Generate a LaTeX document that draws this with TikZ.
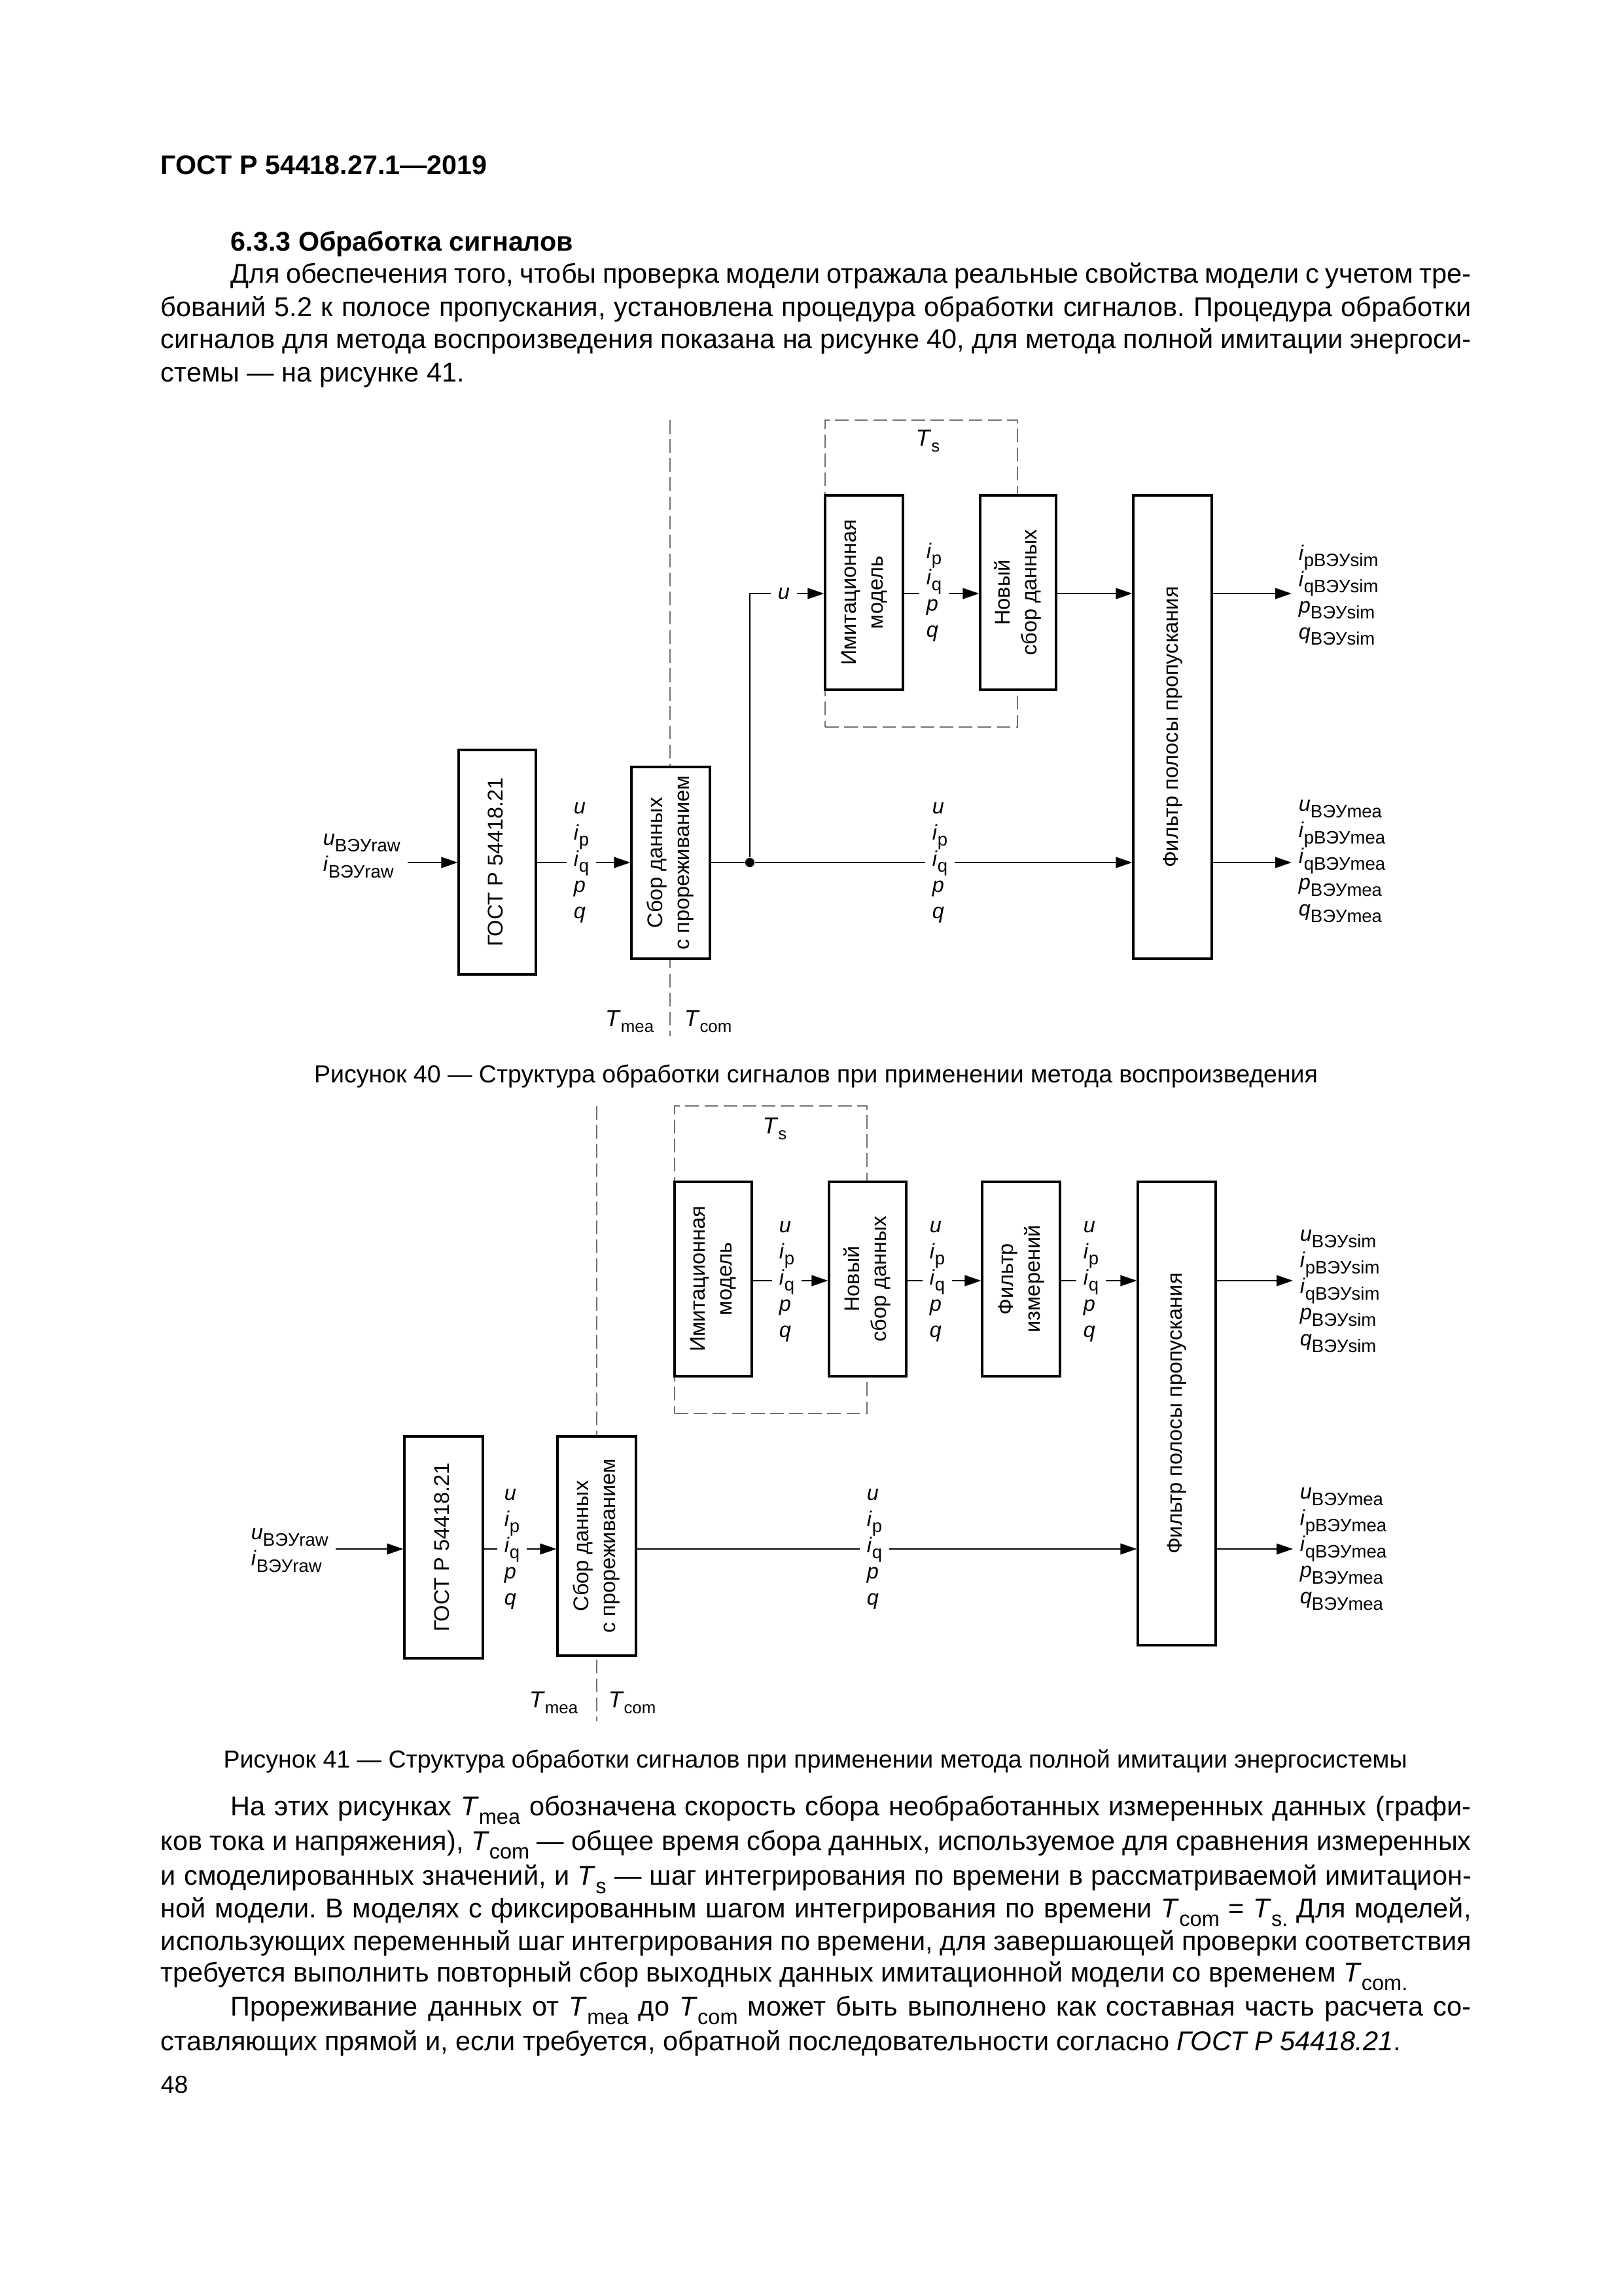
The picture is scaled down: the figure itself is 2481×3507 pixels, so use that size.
\documentclass[tikz,border=0pt]{standalone}
\usepackage{fontspec}
\setmainfont{Liberation Sans}
\usepackage{graphicx}
\usetikzlibrary{arrows.meta}
\frenchspacing
\newcommand\sbs[1]{\raisebox{-2.2pt}{\fontsize{6.6}{6.6}\selectfont #1}}
\newcommand\lbv[2]{\textit{#1}\sbs{#2}}
\newcommand\tsb[1]{\raisebox{-3.3pt}{\fontsize{7.8}{7.8}\selectfont #1}}
\newcommand\Tsub[1]{\textit{T}\tsb{#1}}
\newcommand\dT[1]{\textit{T}\raisebox{-2.3pt}{\fontsize{6.2}{6.2}\selectfont #1}}
\newcommand\jline[2]{\makebox[#1][s]{#2}}
\newcommand\fiveL{\textit{u}\\\lbv{i}{p}\\\lbv{i}{q}\\\textit{p}\\\textit{q}}
\newcommand\fourL{\lbv{i}{p}\\\lbv{i}{q}\\\textit{p}\\\textit{q}}
\newcommand\rot[1]{\rotatebox{90}{\begin{tabular}{@{}c@{}}#1\end{tabular}}}
\begin{document}
\begin{tikzpicture}[x=0.24pt,y=-0.24pt,
 blk/.style 2 args={draw, fill=white, line width=0.75pt, minimum width=#1*0.24pt, minimum height=#2*0.24pt, inner sep=0pt, font=\fontsize{7.8}{9.8}\selectfont},
 stk/.style={anchor=west, inner xsep=2.4pt, inner ysep=0pt, align=left, font=\fontsize{7.8}{9.6}\selectfont},
 lbl/.style={inner sep=0pt, font=\fontsize{8.5}{10}\selectfont},
 dsh/.style={draw=black!55, line width=0.45pt, dash pattern=on 5pt off 2pt},
 ln/.style={line width=0.45pt},
 arr/.style={line width=0.45pt, -{Triangle[length=6pt,width=4pt]}},
 txt/.style={anchor=base west, inner sep=0pt, font=\fontsize{9.95}{11.6}\selectfont},
 btxt/.style={anchor=base west, inner sep=0pt, font=\fontsize{9.9}{11.6}\selectfont\bfseries},
 captxt/.style={inner sep=0pt, font=\fontsize{9}{10}\selectfont},
]
\fill[white] (0,0) rectangle (2481,3507);
\useasboundingbox (0,0) rectangle (2481,3507);

% ---------------- text above ----------------
\node[btxt] (hdr) at (245,267) {ГОСТ Р 54418.27.1—2019};
\node[btxt] (sec) at (352,384) {6.3.3 Обработка сигналов};
\node[txt] (p1a) at (352,433) {\jline{455.0pt}{Для обеспечения того, чтобы проверка модели отражала реальные свойства модели с учетом тре-}};
\node[txt] (p1b) at (245,484) {\jline{480.7pt}{бований 5.2 к полосе пропускания, установлена процедура обработки сигналов. Процедура обработки}};
\node[txt] (p1c) at (245,533) {\jline{480.7pt}{сигналов для метода воспроизведения показана на рисунке 40, для метода полной имитации энергоси-}};
\node[txt] (p1d) at (245,584) {стемы — на рисунке 41.};

% ---------------- Figure 40 ----------------
\coordinate (v40t) at (1024,642);
\coordinate (v40b) at (1024,1583);
\draw[dsh] (v40t) -- (v40b);
\node[dsh, minimum width=294*0.24pt, minimum height=469*0.24pt, inner sep=0pt] (ts40) at (1408,876.5) {};
\node[lbl] (ts40l) at (1418,674) {\dT{s}};

\node[blk={118}{343}] (g40) at (760,1317.5) {\rot{ГОСТ Р 54418.21}};
\node[blk={120}{293}] (s40) at (1025,1318.5) {\rot{Сбор данных\\с прореживанием}};
\node[blk={119}{297}] (im40) at (1320.5,905.5) {\rot{Имитационная\\модель}};
\node[blk={116}{297}] (nv40) at (1556,905.5) {\rot{Новый\\сбор данных}};
\node[blk={120}{708}] (f40) at (1792,1111) {\rot{Фильтр полосы пропускания}};

\coordinate (m40) at (0,1318);
\coordinate (t40) at (0,907);
\node[circle, fill, inner sep=0pt, minimum size=3.4pt] (jn40) at (1146,1318) {};

\node[stk] (in40) at (483,1308) {\lbv{u}{ВЭУraw}\\\lbv{i}{ВЭУraw}};
\node[stk] (l40a) at (866,1318) {\fiveL};
\node[stk] (l40b) at (1414,1318) {\fiveL};
\node[stk] (u40) at (1178,907) {\textit{u}};
\node[stk] (l40c) at (1405,905) {\fourL};
\node[stk] (o40a) at (1974,909) {\lbv{i}{pВЭУsim}\\\lbv{i}{qВЭУsim}\\\lbv{p}{ВЭУsim}\\\lbv{q}{ВЭУsim}};
\node[stk] (o40b) at (1974,1316) {\lbv{u}{ВЭУmea}\\\lbv{i}{pВЭУmea}\\\lbv{i}{qВЭУmea}\\\lbv{p}{ВЭУmea}\\\lbv{q}{ВЭУmea}};

\draw[arr] (in40.east |- m40) -- (g40.west |- m40);
\draw[ln] (g40.east |- m40) -- (l40a.west |- m40);
\draw[arr] (l40a.east |- m40) -- (s40.west |- m40);
\draw[ln] (s40.east |- m40) -- (jn40);
\draw[ln] (jn40) -- (l40b.west |- m40);
\draw[arr] (l40b.east |- m40) -- (f40.west |- m40);
\draw[ln] (jn40) -- (jn40 |- t40) -- (u40.west |- t40);
\draw[arr] (u40.east |- t40) -- (im40.west |- t40);
\draw[ln] (im40.east |- t40) -- (l40c.west |- t40);
\draw[arr] (l40c.east |- t40) -- (nv40.west |- t40);
\draw[arr] (nv40.east |- t40) -- (f40.west |- t40);
\draw[arr] (f40.east |- t40) -- (o40a.west |- t40);
\draw[arr] (f40.east |- m40) -- (o40b.west |- m40);

\node[lbl, anchor=east] (tm40) at (1000,1561) {\dT{mea}};
\node[lbl, anchor=west] (tc40) at (1045,1561) {\dT{com}};

\node[captxt] (cap40) at (1247,1645) {Рисунок 40 — Структура обработки сигналов при применении метода воспроизведения};

% ---------------- Figure 41 ----------------
\coordinate (v41t) at (912,1690);
\coordinate (v41b) at (912,2630);
\draw[dsh] (v41t) -- (v41b);
\node[dsh, minimum width=294*0.24pt, minimum height=470*0.24pt, inner sep=0pt] (ts41) at (1178,1925) {};
\node[lbl] (ts41l) at (1184,1725) {\dT{s}};

\node[blk={120}{339}] (g41) at (678,2364.5) {\rot{ГОСТ Р 54418.21}};
\node[blk={120}{335}] (s41) at (912,2362.5) {\rot{Сбор данных\\с прореживанием}};
\node[blk={118}{297}] (im41) at (1090,1954.5) {\rot{Имитационная\\модель}};
\node[blk={118}{297}] (nv41) at (1326,1954.5) {\rot{Новый\\сбор данных}};
\node[blk={119}{297}] (fm41) at (1560.5,1954.5) {\rot{Фильтр\\измерений}};
\node[blk={119}{708}] (f41) at (1798.5,2160) {\rot{Фильтр полосы пропускания}};

\coordinate (m41) at (0,2367);
\coordinate (t41) at (0,1957);

\node[stk] (in41) at (373,2369) {\lbv{u}{ВЭУraw}\\\lbv{i}{ВЭУraw}};
\node[stk] (l41a) at (760,2367) {\fiveL};
\node[stk] (l41b) at (1314,2367) {\fiveL};
\node[stk] (l41c) at (1180,1958) {\fiveL};
\node[stk] (l41d) at (1410,1958) {\fiveL};
\node[stk] (l41e) at (1645,1958) {\fiveL};
\node[stk] (o41a) at (1976,1973) {\lbv{u}{ВЭУsim}\\\lbv{i}{pВЭУsim}\\\lbv{i}{qВЭУsim}\\\lbv{p}{ВЭУsim}\\\lbv{q}{ВЭУsim}};
\node[stk] (o41b) at (1976,2367) {\lbv{u}{ВЭУmea}\\\lbv{i}{pВЭУmea}\\\lbv{i}{qВЭУmea}\\\lbv{p}{ВЭУmea}\\\lbv{q}{ВЭУmea}};

\draw[arr] (in41.east |- m41) -- (g41.west |- m41);
\draw[ln] (g41.east |- m41) -- (l41a.west |- m41);
\draw[arr] (l41a.east |- m41) -- (s41.west |- m41);
\draw[ln] (s41.east |- m41) -- (l41b.west |- m41);
\draw[arr] (l41b.east |- m41) -- (f41.west |- m41);
\draw[ln] (im41.east |- t41) -- (l41c.west |- t41);
\draw[arr] (l41c.east |- t41) -- (nv41.west |- t41);
\draw[ln] (nv41.east |- t41) -- (l41d.west |- t41);
\draw[arr] (l41d.east |- t41) -- (fm41.west |- t41);
\draw[ln] (fm41.east |- t41) -- (l41e.west |- t41);
\draw[arr] (l41e.east |- t41) -- (f41.west |- t41);
\draw[arr] (f41.east |- t41) -- (o41a.west |- t41);
\draw[arr] (f41.east |- m41) -- (o41b.west |- m41);

\node[lbl, anchor=east] (tm41) at (884,2602) {\dT{mea}};
\node[lbl, anchor=west] (tc41) at (929,2602) {\dT{com}};

\node[captxt] (cap41) at (1246,2691) {Рисунок 41 — Структура обработки сигналов при применении метода полной имитации энергосистемы};

% ---------------- text below ----------------
\node[txt] (p2a) at (352,2774) {\jline{455.0pt}{На этих рисунках \Tsub{mea} обозначена скорость сбора необработанных измеренных данных (графи-}};
\node[txt] (p2b) at (245,2827) {\jline{480.7pt}{ков тока и напряжения), \Tsub{com} — общее время сбора данных, используемое для сравнения измеренных}};
\node[txt] (p2c) at (245,2880) {\jline{480.7pt}{и смоделированных значений, и \Tsub{s} — шаг интегрирования по времени в рассматриваемой имитацион-}};
\node[txt] (p2d) at (245,2930) {\jline{480.7pt}{ной модели. В моделях с фиксированным шагом интегрирования по времени \Tsub{com} = \Tsub{s.} Для моделей,}};
\node[txt] (p2e) at (245,2980) {\jline{480.7pt}{использующих переменный шаг интегрирования по времени, для завершающей проверки соответствия}};
\node[txt] (p2f) at (245,3028) {требуется выполнить повторный сбор выходных данных имитационной модели со временем \Tsub{com.}};
\node[txt] (p3a) at (352,3080) {\jline{455.0pt}{Прореживание данных от \Tsub{mea} до \Tsub{com} может быть выполнено как составная часть расчета со-}};
\node[txt] (p3b) at (245,3133) {ставляющих прямой и, если требуется, обратной последовательности согласно \textit{ГОСТ Р 54418.21}.};
\node[txt, font=\fontsize{9}{10}\selectfont] (pg) at (245,3198) {48};
\end{tikzpicture}
\end{document}
